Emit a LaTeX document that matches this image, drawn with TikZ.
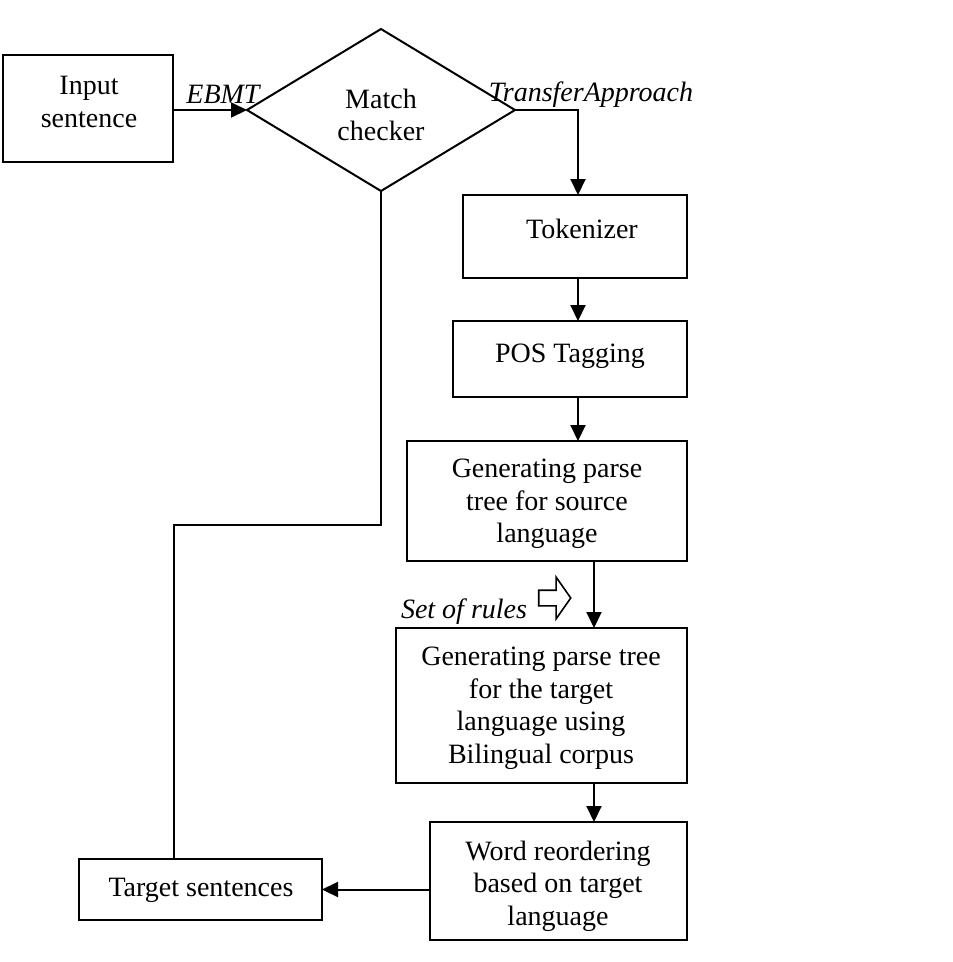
\documentclass[tikz,border=0pt]{standalone}
\usepackage{fontspec}
\setmainfont{Liberation Serif}
\usetikzlibrary{arrows.meta,shapes.geometric,shapes.arrows}
\begin{document}
\begin{tikzpicture}[x=1pt,y=-1pt,
 every node/.style={font=\fontsize{28}{32.5}\selectfont},
 box/.style={draw,line width=2pt,inner sep=0pt,outer sep=0pt,anchor=north west},
 txt/.style={align=center,inner sep=0pt},
 lab/.style={inner sep=0pt,font=\fontsize{28}{32.5}\selectfont\itshape},
 arr/.style={line width=2pt,-{Triangle[length=16pt,width=15pt]}},
 ln/.style={line width=2pt}]
\useasboundingbox (0,0) rectangle (953,962);
% boxes
\node[box,minimum width=170pt,minimum height=107pt] (inp) at (3,55) {};
\node[txt] (inpt) at (89,102) {Input\\sentence};
\node[draw,diamond,line width=2pt,minimum width=268pt,minimum height=162pt,inner sep=0pt,outer sep=0pt] (dia) at (381,110) {};
\node[txt] (diat) at (381,115) {Match\\checker};
\node[box,minimum width=224pt,minimum height=83pt] (tok) at (463,195) {};
\node[txt] (tokt) at (582,229) {Tokenizer};
\node[box,minimum width=234pt,minimum height=76pt] (pos) at (453,321) {};
\node[txt] (post) at (570,356) {POS Tagging};
\node[box,minimum width=280pt,minimum height=120pt] (gps) at (407,441) {};
\node[txt] (gpst) at (547,504) {Generating parse\\tree for source\\language};
\node[box,minimum width=291pt,minimum height=155pt] (gpt) at (396,628) {};
\node[txt] (gptt) at (541,708) {Generating parse tree\\for the target\\language using\\Bilingual corpus};
\node[box,minimum width=257pt,minimum height=118pt] (wrd) at (430,822) {};
\node[txt] (wrdt) at (558,886) {Word reordering\\based on target\\language};
\node[box,minimum width=243pt,minimum height=61pt] (tgt) at (79,859) {};
\node[txt] (tgtt) at (201,890) {Target sentences};
% labels
\node[lab] (ebmt) at (223,94) {EBMT};
\node[lab] (ta) at (591,95) {TransferApproach};
\node[lab] (sor) at (464,612) {Set of rules};
\node[single arrow,draw,line width=1.6pt,inner sep=7pt,minimum height=32pt,single arrow head extend=13pt,single arrow tip angle=110] (sra) at (552,598) {};
% connectors
\coordinate (ca) at (578,0);
\coordinate (cb) at (594,0);
\coordinate (cc) at (174,525);
\draw[arr] (inp.east |- dia.west) -- (dia.west);
\draw[arr] (dia.east) -| (tok.north -| ca);
\draw[arr] (tok.south -| ca) -- (pos.north -| ca);
\draw[arr] (pos.south -| ca) -- (gps.north -| ca);
\draw[arr] (gps.south -| cb) -- (gpt.north -| cb);
\draw[arr] (gpt.south -| cb) -- (wrd.north -| cb);
\draw[arr] (wrd.west |- tgt.east) -- (tgt.east);
\draw[ln] (tgt.north -| cc) -- (cc) -| (dia.south);
\end{tikzpicture}
\end{document}
